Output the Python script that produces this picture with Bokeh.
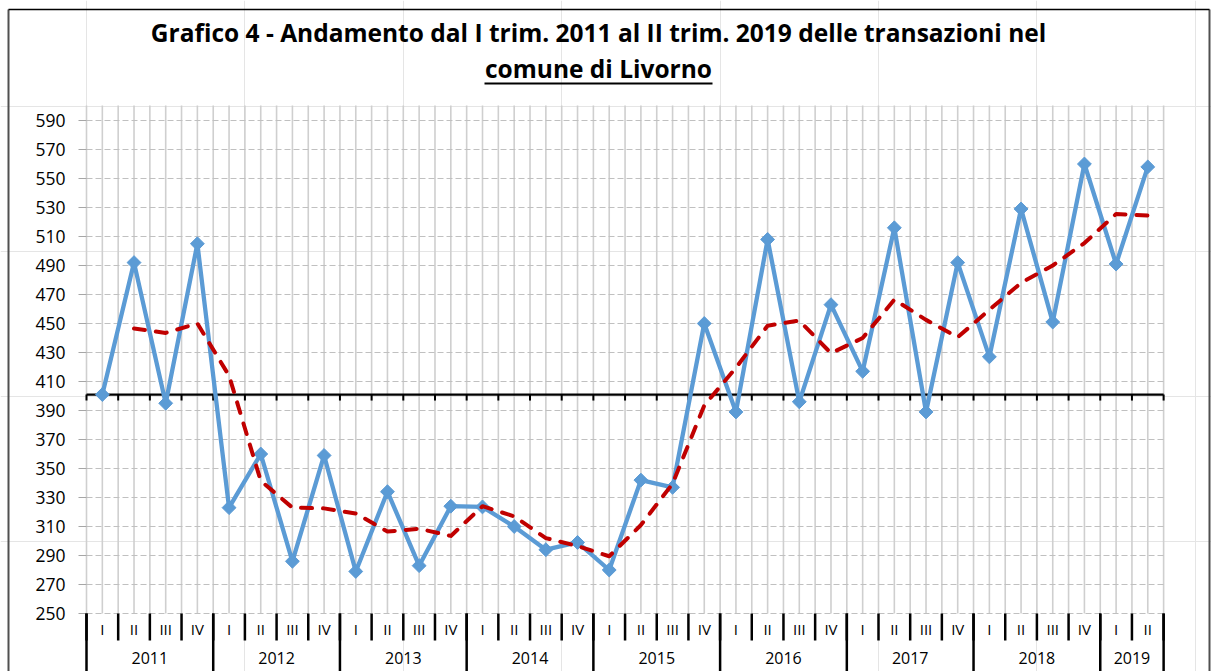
from bokeh.plotting import figure
from bokeh.models import Range1d, ColumnDataSource
from bokeh.core.properties import value
from bokeh.embed import file_html
from bokeh.resources import INLINE

# ---------------- data ----------------
years = ["2011", "2012", "2013", "2014", "2015", "2016", "2017", "2018", "2019"]
quarters_per_year = [4, 4, 4, 4, 4, 4, 4, 4, 2]
quarter_names = ["I", "II", "III", "IV"]

transazioni = [401, 492, 395, 505,
               323, 360, 286, 359,
               279, 334, 283, 324,
               323.5, 310, 294, 299,
               280, 342, 337, 450,
               389, 508, 396, 463,
               417, 516, 389, 492,
               427, 529, 451, 560,
               491, 558]

# dashed red trend line (starts at 2011 II)
media_mobile = [None, 446.5, 443.5, 450,
                414, 341.5, 323, 322.5,
                319, 306.5, 308.5, 303.5,
                324, 317, 302, 296.5,
                289.5, 311, 339.5, 393.5,
                419.5, 448.5, 452, 429.5,
                440, 466.5, 452.5, 440.5,
                459.5, 478, 490, 505.5,
                525.5, 524.5]

y_ticks = [250, 270, 290, 310, 330, 350, 370, 390, 410, 430,
           450, 470, 490, 510, 530, 550, 570, 590]
axis_cross = 401

title_line1 = "Grafico 4 - Andamento dal I trim. 2011 al II trim. 2019 delle transazioni nel"
title_line2 = "comune di Livorno"

# ---------------- layout ----------------
W, H = 1211, 671
PX_X = 31.68          # pixels per category
PX_Y = 1.45           # pixels per unit
PLOT_LEFT = 86        # canvas x of the first category boundary
Y250 = 613            # canvas y of value 250

n = len(transazioni)
x0 = -PLOT_LEFT / PX_X
x1 = x0 + W / PX_X
y1 = 250 + Y250 / PX_Y
y0 = y1 - H / PX_Y
y_top = 600.3

def py(cy):   # canvas y -> data value
    return 250 + (Y250 - cy) / PX_Y

def px(cx):   # canvas x -> data value
    return (cx - PLOT_LEFT) / PX_X

FONT = value("Open Sans")

p = figure(width=W, height=H, output_backend="svg", toolbar_location=None,
           x_range=Range1d(x0, x1), y_range=Range1d(y0, y1),
           x_axis_location=None, y_axis_location=None,
           min_border=0, min_border_left=0, min_border_right=0,
           min_border_top=0, min_border_bottom=0)
p.outline_line_color = None
p.background_fill_color = "white"
p.border_fill_color = "white"

# outer chart border
p.segment(x0=[px(8), px(1209)], y0=[py(9), py(9)], x1=[px(8), px(1209)], y1=[y0, y0],
          line_color="#505050", line_width=2)
p.segment(x0=[px(8)], y0=[py(9)], x1=[px(1209)], y1=[py(9)],
          line_color="black", line_width=1.5)

# vertical gridlines (every half category)
vx = [k * 0.5 for k in range(2 * n + 1)]
p.segment(x0=vx, y0=[250] * len(vx), x1=vx, y1=[y_top] * len(vx),
          line_color="#cfcfcf", line_width=1.6)

# horizontal dashed gridlines
p.segment(x0=[0] * len(y_ticks), y0=y_ticks, x1=[n] * len(y_ticks), y1=y_ticks,
          line_color="#c0c0c0", line_width=1.2, line_dash="6 3")
# tick stubs to the left
p.segment(x0=[-8 / PX_X] * len(y_ticks), y0=y_ticks, x1=[0] * len(y_ticks), y1=y_ticks,
          line_color="#a6a6a6", line_width=1.2)
# y tick labels
p.text(x=[px(65)] * len(y_ticks), y=y_ticks, text=[str(t) for t in y_ticks],
       text_align="right", text_baseline="middle", text_font=FONT,
       text_font_size="17.5px", text_color="#000000")

# horizontal axis line crossing at axis_cross, with ticks
p.segment(x0=[0], y0=[axis_cross], x1=[n], y1=[axis_cross],
          line_color="black", line_width=2.2)
bx = list(range(n + 1))
p.segment(x0=bx, y0=[axis_cross] * len(bx), x1=bx,
          y1=[axis_cross - 6 / PX_Y] * len(bx), line_color="black", line_width=2)

# category labels (two levels)
q_labels = []
year_bounds = [0]
for yr, nq in zip(years, quarters_per_year):
    q_labels += quarter_names[:nq]
    year_bounds.append(year_bounds[-1] + nq)
qx = [i + 0.5 for i in range(n)]
p.text(x=qx, y=[py(628)] * n, text=q_labels, text_align="center",
       text_baseline="middle", text_font=FONT, text_font_size="15px",
       text_color="#000000")
yx = [(year_bounds[i] + year_bounds[i + 1]) / 2 for i in range(len(years))]
p.text(x=yx, y=[py(657)] * len(years), text=years, text_align="center",
       text_baseline="middle", text_font=FONT, text_font_size="16px",
       text_color="#000000")
# separators
p.segment(x0=bx, y0=[250] * len(bx), x1=bx, y1=[py(640)] * len(bx),
          line_color="black", line_width=2.5)
p.segment(x0=year_bounds, y0=[250] * len(year_bounds), x1=year_bounds,
          y1=[y0] * len(year_bounds), line_color="black", line_width=2.5)

# series
src = ColumnDataSource(dict(x=qx, t=transazioni,
                            m=[float("nan") if v is None else v for v in media_mobile]))
p.line("x", "t", source=src, line_color="#5b9bd5", line_width=4.3, line_join="round")
p.scatter("x", "t", source=src, marker="square", size=9.8, angle=0.785398,
          fill_color="#5b9bd5", line_color="#5b9bd5")
p.line("x", "m", source=src, line_color="#c00000", line_width=4,
       line_dash="11 11", line_cap="round", line_join="round")

# title
p.text(x=[px(598)], y=[py(32)], text=[title_line1], text_align="center",
       text_baseline="middle", text_font=FONT, text_font_style="bold",
       text_font_size="24.5px", text_color="#000000")
p.text(x=[px(598)], y=[py(68)], text=[title_line2], text_align="center",
       text_baseline="middle", text_font=FONT, text_font_style="bold",
       text_font_size="24.5px", text_color="#000000")
p.segment(x0=[px(484)], y0=[py(83)], x1=[px(712)], y1=[py(83)],
          line_color="black", line_width=2)

open("out.html", "w").write(file_html(p, INLINE))
